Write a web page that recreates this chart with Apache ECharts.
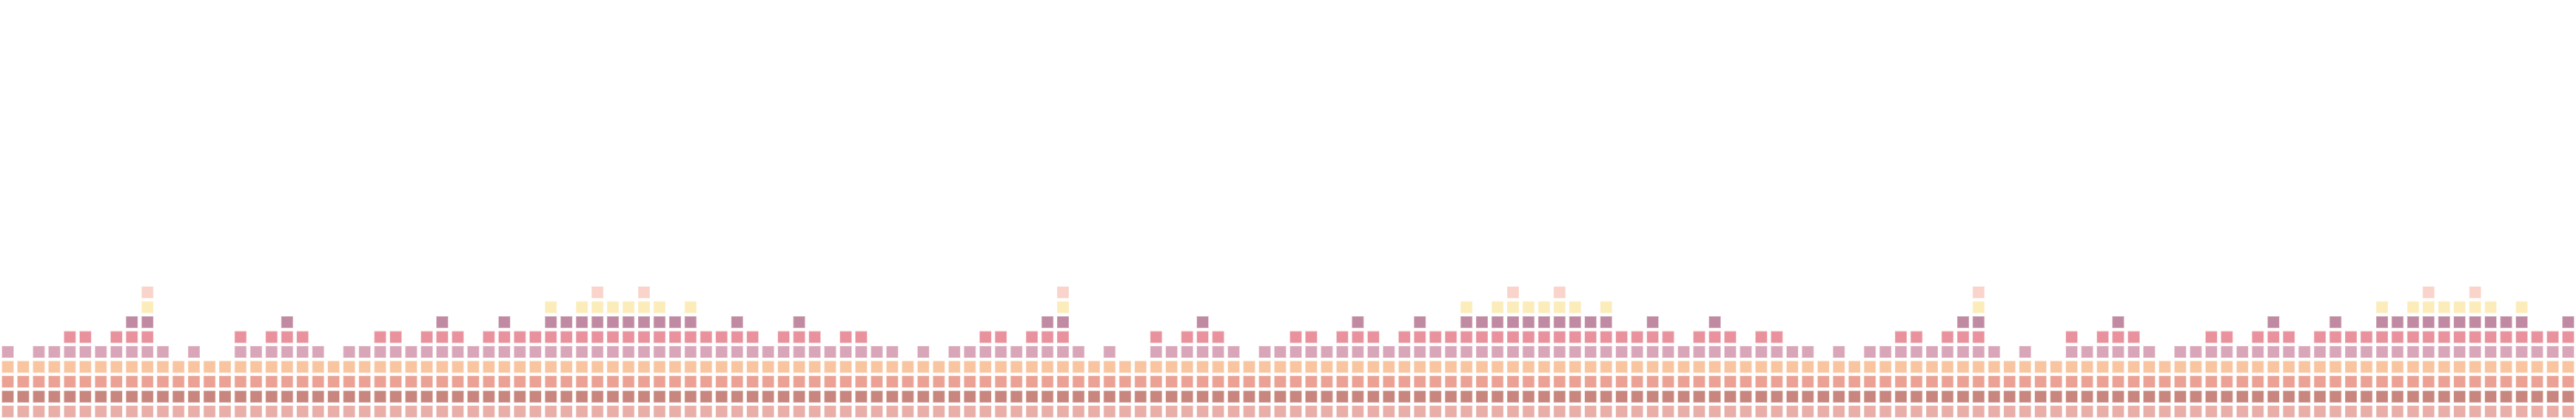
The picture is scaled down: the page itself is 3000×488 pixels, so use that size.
<!DOCTYPE html>
<html>
<head>
<meta charset="utf-8">
<script src="https://cdn.jsdelivr.net/npm/echarts@6/dist/echarts.min.js"></script>
<style>
html,body{margin:0;padding:0;background:#fff;}
#chart{width:3000px;height:488px;}
</style>
</head>
<body>
<div id="chart"></div>
<script>
// Column heights (number of stacked cells per column)
const heights = [
  5,4,5,5,6,6,5,6,7,9,5,4,5,4,4,6,5,6,7,6,5,4,5,5,6,6,5,6,7,6,5,6,7,6,6,8,7,8,9,8,8,9,8,7,8,6,6,7,6,5,6,7,6,5,6,6,5,5,4,
  5,4,5,5,6,6,5,6,7,9,5,4,5,4,4,6,5,6,7,6,5,4,5,5,6,6,5,6,7,6,5,6,7,6,6,8,7,8,9,8,8,9,8,7,8,6,6,7,6,5,6,7,6,5,6,6,5,5,4,
  5,4,5,5,6,6,5,6,7,9,5,4,5,4,4,6,5,6,7,6,5,4,5,5,6,6,5,6,7,6,5,6,7,6,6,8,7,8,9,8,8,9,8,7,8,6,6,7
];
// Row names and colours, bottom to top
const rowNames = ['L1','L2','L3','L4','L5','L6','L7','L8','L9'];
const rowColors = ['#e8aea7','#c8867f','#eba294','#f8c5a0','#d9a6b9','#e9919c','#c08ba2','#fbecba','#fad4ca'];
const categories = heights.map((_, i) => String(i + 1));
const yMax = 28;

const chart = echarts.init(document.getElementById('chart'), null, {renderer: 'canvas'});

const series = rowNames.map((name, r) => ({
  type: 'custom',
  name: name,
  clip: false,
  silent: true,
  data: heights.map((h, k) => h > r ? [k, r] : null).filter(d => d),
  renderItem: function (params, api) {
    const c = api.coord([api.value(0), api.value(1) + 0.5]);
    const s = 14;
    return {
      type: 'rect',
      shape: {x: c[0] - s / 2, y: c[1] - s / 2, width: s, height: s},
      style: {fill: rowColors[r], stroke: 'rgba(255,255,255,0.45)', lineWidth: 1.2}
    };
  }
}));

chart.setOption({
  animation: false,
  backgroundColor: '#ffffff',
  grid: {left: -2.07, top: 2, width: 3012.07, height: 487.7, containLabel: false},
  xAxis: {type: 'category', data: categories, show: false, boundaryGap: true},
  yAxis: {type: 'value', min: 0, max: yMax, show: false},
  series: series
});
</script>
</body>
</html>
